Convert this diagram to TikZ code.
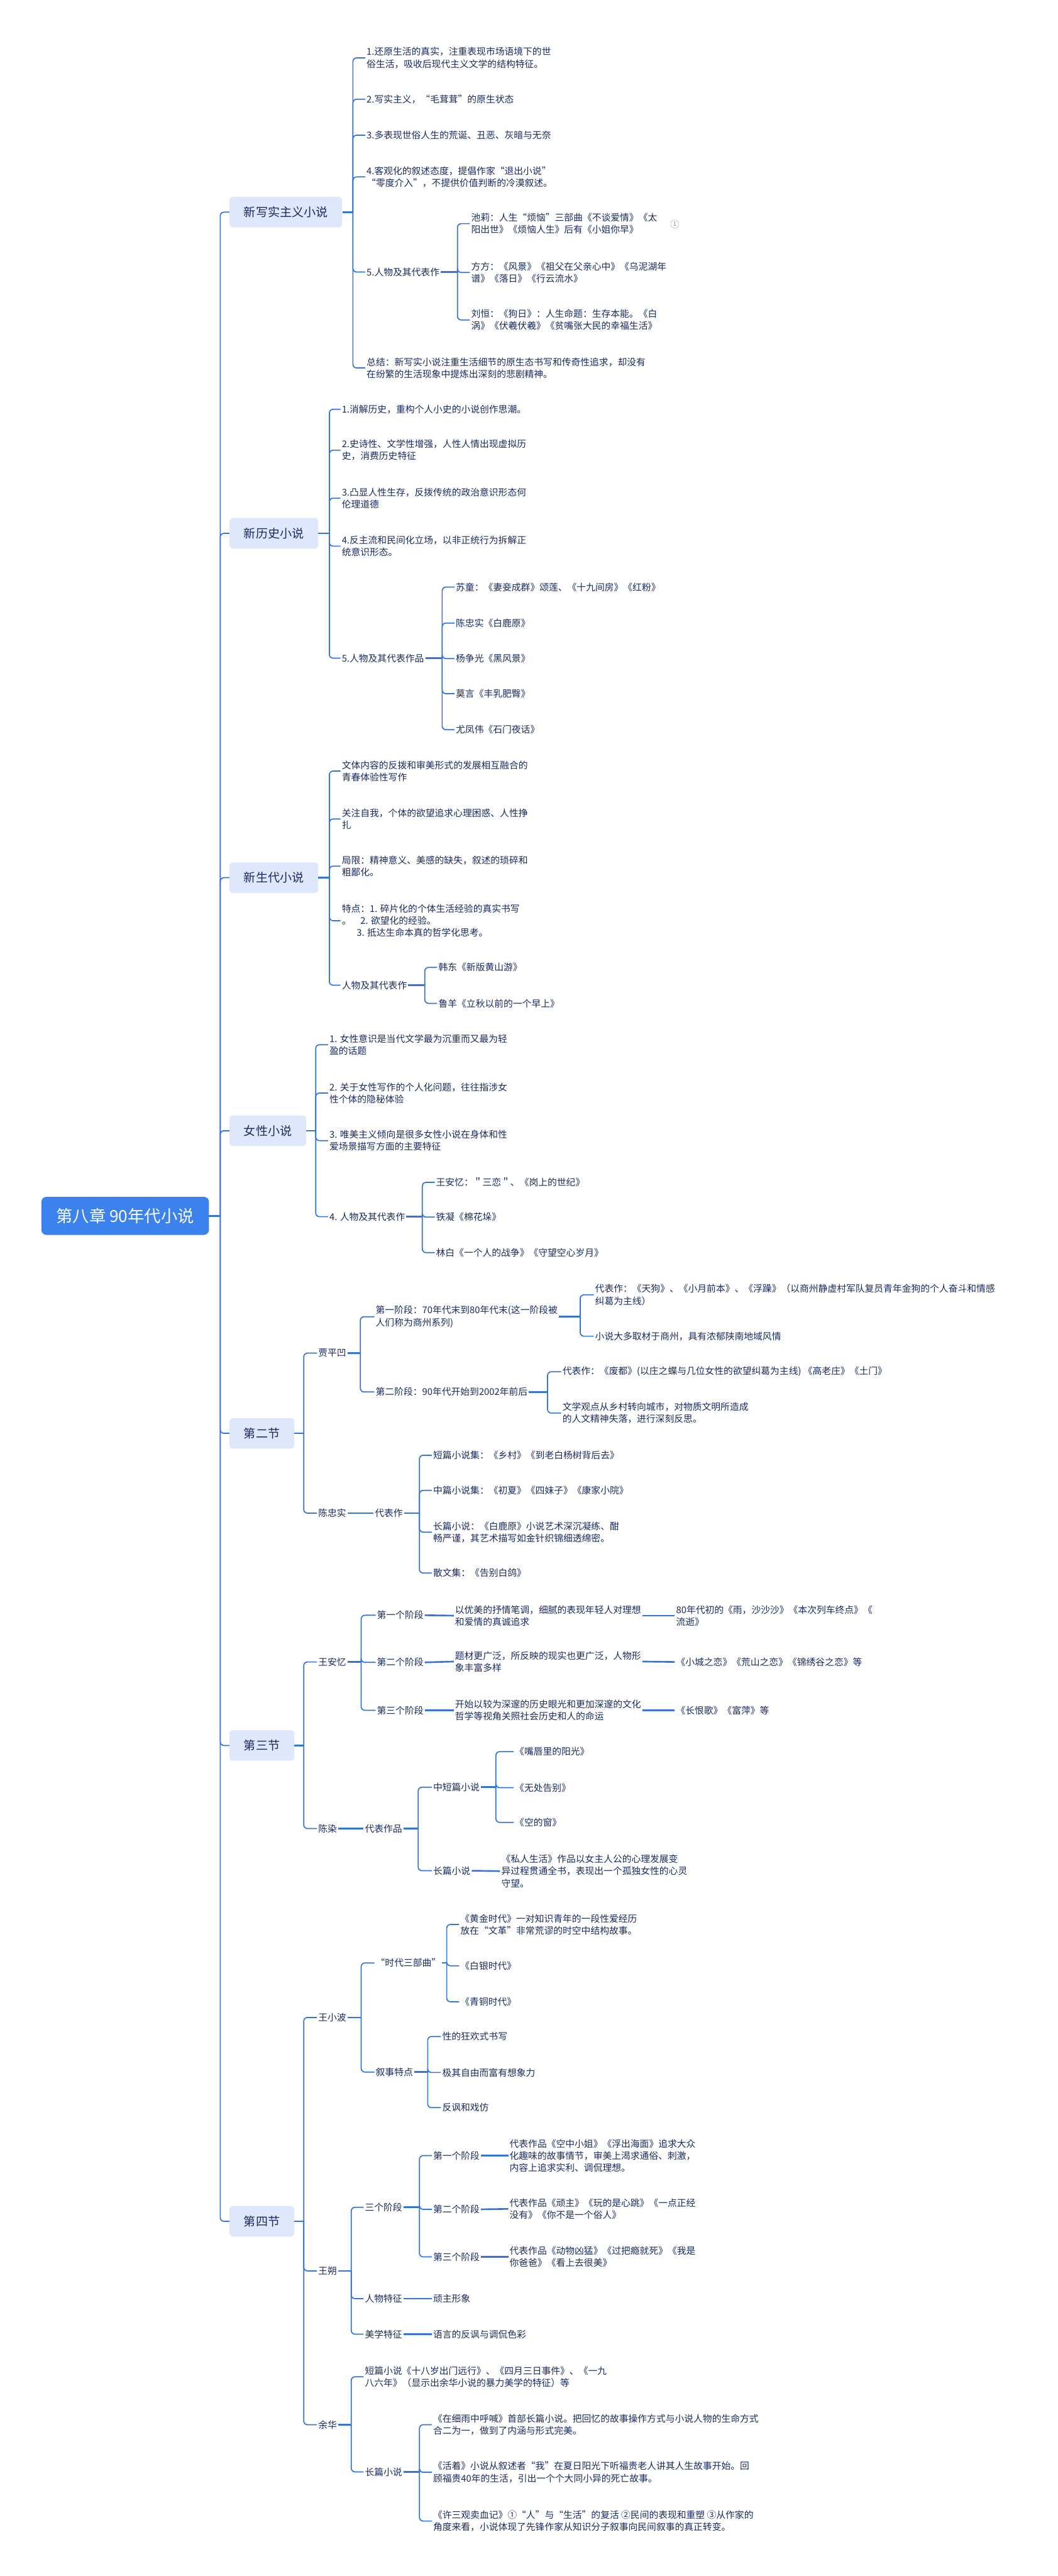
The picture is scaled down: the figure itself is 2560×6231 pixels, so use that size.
\documentclass[tikz,border=0pt]{standalone}
\usepackage{fontspec}
\setmainfont{Noto Sans CJK SC}
\definecolor{navy}{HTML}{1B2B5E}
\definecolor{lnk}{HTML}{3474D6}
\definecolor{boxf}{HTML}{DFE7FC}
\definecolor{rootf}{HTML}{3B82EE}
\tikzset{
 txt/.style={anchor=west, align=left, inner xsep=3pt, inner ysep=2pt, xshift=-3pt, text=navy, font=\fontsize{22.5}{29}\selectfont},
 lvone/.style={anchor=west, fill=boxf, rounded corners=9pt, text=navy, font=\fontsize{29}{34}\selectfont, inner xsep=35pt, minimum height=74pt},
 rootbox/.style={anchor=west, fill=rootf, rounded corners=12pt, text=white, font=\fontsize{40}{46}\selectfont, inner xsep=36pt, minimum height=92pt},
 conn/.style={draw=lnk, line width=2.6pt, rounded corners=9pt},
 stub/.style={draw=lnk, line width=4pt},
 icon/.style={draw=gray, circle, inner sep=0pt, minimum size=20pt, text=gray, font=\fontsize{14}{14}\selectfont},
}
\newcommand\nd[4]{\node[txt] (#1) at (#2,#3) {#4};}
\newcommand\br[3]{\draw[stub] (#1.east) -- (#2,0 |- #1.east);
  \foreach \c in {#3}{\draw[conn] (#2,0 |- #1.east) |- (\c.west);}}
\newcommand\jn[2]{\draw[stub] (#1.east) -- (#2.west);}
\begin{document}
\begin{tikzpicture}[x=1pt,y=-1pt]
\fill[white] (0,0) rectangle (2560,6231);
\useasboundingbox (0,0) rectangle (2560,6231);

% root and level one
\node[rootbox] (root) at (100,2941) {第八章 90年代小说};
\node[lvone] (A) at (555,513) {新写实主义小说};
\node[lvone] (B) at (555,1290) {新历史小说};
\node[lvone] (C) at (555,2123) {新生代小说};
\node[lvone] (D) at (555,2735) {女性小说};
\node[lvone] (E) at (555,3467) {第二节};
\node[lvone] (F) at (555,4222) {第三节};
\node[lvone] (G) at (555,5373) {第四节};
\br{root}{533}{A,B,C,D,E,F,G}

% A
\nd{a1}{887}{140}{1.还原生活的真实，注重表现市场语境下的世\\俗生活，吸收后现代主义文学的结构特征。}
\nd{a2}{887}{240}{2.写实主义，“毛茸茸”的原生状态}
\nd{a3}{887}{327}{3.多表现世俗人生的荒诞、丑恶、灰暗与无奈}
\nd{a4}{887}{428}{4.客观化的叙述态度，提倡作家“退出小说”\\“零度介入”，不提供价值判断的冷漠叙述。}
\nd{a5}{887}{658}{5.人物及其代表作}
\nd{a6}{887}{890}{总结：新写实小说注重生活细节的原生态书写和传奇性追求，却没有\\在纷繁的生活现象中提炼出深刻的悲剧精神。}
\br{A}{854}{a1,a2,a3,a4,a5,a6}
\nd{a51}{1140}{541}{池莉：人生“烦恼”三部曲《不谈爱情》《太\\阳出世》《烦恼人生》后有《小姐你早》}
\nd{a52}{1140}{659}{方方：《风景》《祖父在父亲心中》《乌泥湖年\\谱》《落日》《行云流水》}
\nd{a53}{1140}{774}{刘恒：《狗日》：人生命题：生存本能。《白\\涡》《伏羲伏羲》《贫嘴张大民的幸福生活》}
\br{a5}{1107}{a51,a52,a53}
\node[icon] (ic) at (1633,542) {1};

% B
\nd{b1}{827}{990}{1.消解历史，重构个人小史的小说创作思潮。}
\nd{b2}{827}{1089}{2.史诗性、文学性增强，人性人情出现虚拟历\\史，消费历史特征}
\nd{b3}{827}{1205}{3.凸显人性生存，反拨传统的政治意识形态何\\伦理道德}
\nd{b4}{827}{1321}{4.反主流和民间化立场，以非正统行为拆解正\\统意识形态。}
\nd{b5}{827}{1592}{5.人物及其代表作品}
\br{B}{797}{b1,b2,b3,b4,b5}
\nd{b51}{1103}{1420}{苏童：《妻妾成群》颂莲、《十九间房》《红粉》}
\nd{b52}{1103}{1507}{陈忠实《白鹿原》}
\nd{b53}{1103}{1593}{杨争光《黑风景》}
\nd{b54}{1103}{1678}{莫言《丰乳肥臀》}
\nd{b55}{1103}{1765}{尤凤伟《石门夜话》}
\br{b5}{1070}{b51,b52,b53,b54,b55}

% C
\nd{c1}{827}{1865}{文体内容的反拨和审美形式的发展相互融合的\\青春体验性写作}
\nd{c2}{827}{1981}{关注自我，个体的欲望追求心理困惑、人性挣\\扎}
\nd{c3}{827}{2095}{局限：精神意义、美感的缺失，叙述的琐碎和\\粗鄙化。}
\nd{c4}{827}{2227}{特点：1. 碎片化的个体生活经验的真实书写\\。\hspace{1em}2. 欲望化的经验。\\\hspace{1.6em}3. 抵达生命本真的哲学化思考。}
\nd{c5}{827}{2383}{人物及其代表作}
\br{C}{797}{c1,c2,c3,c4,c5}
\nd{c51}{1061}{2340}{韩东《新版黄山游》}
\nd{c52}{1061}{2427}{鲁羊《立秋以前的一个早上》}
\br{c5}{1028}{c51,c52}

% D
\nd{d1}{797}{2527}{1. 女性意识是当代文学最为沉重而又最为轻\\盈的话题}
\nd{d2}{797}{2644}{2. 关于女性写作的个人化问题，往往指涉女\\性个体的隐秘体验}
\nd{d3}{797}{2759}{3. 唯美主义倾向是很多女性小说在身体和性\\爱场景描写方面的主要特征}
\nd{d4}{797}{2943}{4. 人物及其代表作}
\br{D}{764}{d1,d2,d3,d4}
\nd{d41}{1055}{2860}{王安忆：＂三恋＂、《岗上的世纪》}
\nd{d42}{1055}{2944}{铁凝《棉花垛》}
\nd{d43}{1055}{3030}{林白《一个人的战争》《守望空心岁月》}
\br{d4}{1022}{d41,d42,d43}

% E
\nd{e1}{770}{3273}{贾平凹}
\nd{e2}{770}{3660}{陈忠实}
\br{E}{735}{e1,e2}
\nd{e11}{909}{3185}{第一阶段：70年代末到80年代末(这一阶段被\\人们称为商州系列)}
\nd{e12}{909}{3367}{第二阶段：90年代开始到2002年前后}
\br{e1}{872}{e11,e12}
\nd{e111}{1440}{3132}{代表作：《天狗》、《小月前本》、《浮躁》（以商州静虚村军队复员青年金狗的个人奋斗和情感\\纠葛为主线）}
\nd{e112}{1440}{3232}{小说大多取材于商州，具有浓郁陕南地域风情}
\br{e11}{1404}{e111,e112}
\nd{e121}{1361}{3318}{代表作：《废都》(以庄之蝶与几位女性的欲望纠葛为主线) 《高老庄》《土门》}
\nd{e122}{1361}{3418}{文学观点从乡村转向城市，对物质文明所造成\\的人文精神失落，进行深刻反思。}
\br{e12}{1325}{e121,e122}
\nd{e21}{907}{3660}{代表作}
\jn{e2}{e21}
\nd{e211}{1048}{3520}{短篇小说集：《乡村》《到老白杨树背后去》}
\nd{e212}{1048}{3605}{中篇小说集：《初夏》《四妹子》《康家小院》}
\nd{e213}{1048}{3706}{长篇小说：《白鹿原》小说艺术深沉凝练、酣\\畅严谨，其艺术描写如金针织锦细透绵密。}
\nd{e214}{1048}{3805}{散文集：《告别白鸽》}
\br{e21}{1015}{e211,e212,e213,e214}

% F
\nd{f1}{770}{4020}{王安忆}
\nd{f2}{770}{4423}{陈染}
\br{F}{735}{f1,f2}
\nd{f11}{912}{3907}{第一个阶段}
\nd{f12}{912}{4021}{第二个阶段}
\nd{f13}{912}{4137}{第三个阶段}
\br{f1}{874}{f11,f12,f13}
\nd{f111}{1101}{3908}{以优美的抒情笔调，细腻的表现年轻人对理想\\和爱情的真诚追求}
\nd{f112}{1636}{3908}{80年代初的《雨，沙沙沙》《本次列车终点》《\\流逝》}
\jn{f11}{f111}\jn{f111}{f112}
\nd{f121}{1101}{4019}{题材更广泛，所反映的现实也更广泛，人物形\\象丰富多样}
\nd{f122}{1636}{4020}{《小城之恋》《荒山之恋》《锦绣谷之恋》等}
\jn{f12}{f121}\jn{f121}{f122}
\nd{f131}{1101}{4137}{开始以较为深邃的历史眼光和更加深邃的文化\\哲学等视角关照社会历史和人的命运}
\nd{f132}{1636}{4137}{《长恨歌》《富萍》等}
\jn{f13}{f131}\jn{f131}{f132}
\nd{f21}{883}{4423}{代表作品}
\jn{f2}{f21}
\nd{f211}{1048}{4323}{中短篇小说}
\nd{f212}{1048}{4525}{长篇小说}
\br{f21}{1012}{f211,f212}
\nd{f2111}{1246}{4237}{《嘴唇里的阳光》}
\nd{f2112}{1246}{4324}{《无处告别》}
\nd{f2113}{1246}{4408}{《空的窗》}
\br{f211}{1200}{f2111,f2112,f2113}
\nd{f2121}{1213}{4526}{《私人生活》作品以女主人公的心理发展变\\异过程贯通全书，表现出一个孤独女性的心灵\\守望。}
\jn{f212}{f2121}

% G
\nd{g1}{770}{4880}{王小波}
\nd{g2}{770}{5493}{王朔}
\nd{g3}{770}{5865}{余华}
\br{G}{735}{g1,g2,g3}
\nd{g11}{909}{4748}{“时代三部曲”}
\nd{g12}{909}{5012}{叙事特点}
\br{g1}{874}{g11,g12}
\nd{g111}{1114}{4655}{《黄金时代》一对知识青年的一段性爱经历\\放在“文革”非常荒谬的时空中结构故事。}
\nd{g112}{1114}{4755}{《白银时代》}
\nd{g113}{1114}{4842}{《青铜时代》}
\br{g11}{1081}{g111,g112,g113}
\nd{g121}{1070}{4926}{性的狂欢式书写}
\nd{g122}{1070}{5013}{极其自由而富有想象力}
\nd{g123}{1070}{5098}{反讽和戏仿}
\br{g12}{1035}{g121,g122,g123}
\nd{g21}{883}{5339}{三个阶段}
\nd{g22}{883}{5560}{人物特征}
\nd{g23}{883}{5646}{美学特征}
\br{g2}{850}{g21,g22,g23}
\nd{g211}{1048}{5214}{第一个阶段}
\nd{g212}{1048}{5344}{第二个阶段}
\nd{g213}{1048}{5459}{第三个阶段}
\br{g21}{1015}{g211,g212,g213}
\nd{g2111}{1233}{5214}{代表作品《空中小姐》《浮出海面》追求大众\\化趣味的故事情节，审美上渴求通俗、刺激，\\内容上追求实利、调侃理想。}
\nd{g2121}{1233}{5343}{代表作品《顽主》《玩的是心跳》《一点正经\\没有》《你不是一个俗人》}
\nd{g2131}{1233}{5459}{代表作品《动物凶猛》《过把瘾就死》《我是\\你爸爸》《看上去很美》}
\jn{g211}{g2111}\jn{g212}{g2121}\jn{g213}{g2131}
\nd{g221}{1048}{5560}{顽主形象}
\nd{g231}{1048}{5646}{语言的反讽与调侃色彩}
\jn{g22}{g221}\jn{g23}{g231}
\nd{g31}{883}{5749}{短篇小说《十八岁出门远行》、《四月三日事件》、《一九\\八六年》（显示出余华小说的暴力美学的特征）等}
\nd{g32}{883}{5979}{长篇小说}
\br{g3}{850}{g31,g32}
\nd{g321}{1048}{5865}{《在细雨中呼喊》首部长篇小说。把回忆的故事操作方式与小说人物的生命方式\\合二为一，做到了内涵与形式完美。}
\nd{g322}{1048}{5980}{《活着》小说从叙述者“我”在夏日阳光下听福贵老人讲其人生故事开始。回\\顾福贵40年的生活，引出一个个大同小异的死亡故事。}
\nd{g323}{1048}{6098}{《许三观卖血记》①“人”与“生活”的复活 ②民间的表现和重塑 ③从作家的\\角度来看，小说体现了先锋作家从知识分子叙事向民间叙事的真正转变。}
\br{g32}{1015}{g321,g322,g323}
\end{tikzpicture}
\end{document}
